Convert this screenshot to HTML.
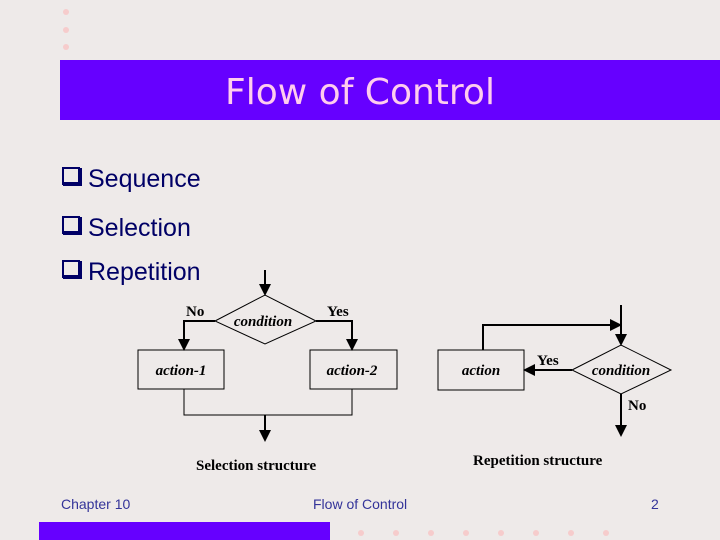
<!DOCTYPE html>
<html><head><meta charset="utf-8"><style>
body{margin:0;width:720px;height:540px;background:#eeeae9;position:relative;overflow:hidden;font-family:"Liberation Sans",sans-serif}
.t{position:absolute;white-space:nowrap}
</style></head><body>
<svg width="720" height="540" style="position:absolute;left:0;top:0">
<g fill="#f6cccc">
<circle cx="66" cy="12" r="3"/><circle cx="66" cy="30" r="3"/><circle cx="66" cy="47" r="3"/>
<circle cx="361" cy="533" r="3"/><circle cx="396" cy="533" r="3"/><circle cx="431" cy="533" r="3"/><circle cx="466" cy="533" r="3"/><circle cx="501" cy="533" r="3"/><circle cx="536" cy="533" r="3"/><circle cx="571" cy="533" r="3"/><circle cx="606" cy="533" r="3"/>
</g>
<rect x="60" y="60" width="660" height="60" fill="#6600ff"/>
<rect x="39" y="522" width="291" height="18" fill="#6600ff"/>
<text x="360" y="104" text-anchor="middle" font-family="'DejaVu Sans',sans-serif" font-size="36" fill="#ffccee">Flow of Control</text>
<g font-family="'Liberation Sans',sans-serif" font-size="25" fill="#000066">
<text x="88" y="187">Sequence</text><text x="88" y="236">Selection</text><text x="88" y="280">Repetition</text>
</g>
<g fill="none" stroke="#000066" stroke-width="2">
<rect x="63" y="168" width="16" height="16"/><rect x="63" y="217" width="16" height="16"/><rect x="63" y="261" width="16" height="16"/>
</g>
<g fill="#000066"><rect x="63" y="182" width="19" height="4"/><rect x="79" y="168" width="3" height="18"/>
<rect x="63" y="231" width="19" height="4"/><rect x="79" y="217" width="3" height="18"/>
<rect x="63" y="275" width="19" height="4"/><rect x="79" y="261" width="3" height="18"/></g>
<defs><marker id="a" markerWidth="6" markerHeight="6" refX="5" refY="3" orient="auto"><path d="M0,0L6,3L0,6z" fill="#000"/></marker></defs>
<g stroke="#000" fill="none" stroke-width="1">
<polygon points="215,321 265,295 316,321 265,344" fill="none"/>
<rect x="138" y="350" width="86" height="39"/>
<rect x="310" y="350" width="87" height="39"/>
<polyline points="184,389 184,415 352,415 352,389"/>
<polygon points="572,370 621,345 671,370 621,394"/>
<rect x="438" y="350" width="86" height="40"/>
</g>
<g stroke="#000" fill="none" stroke-width="2" marker-end="url(#a)">
<line x1="265" y1="270" x2="265" y2="294"/>
<polyline points="215,321 184,321 184,349"/>
<polyline points="316,321 352,321 352,349"/>
<line x1="265" y1="415" x2="265" y2="440"/>
<line x1="621" y1="305" x2="621" y2="344"/>
<line x1="572" y1="370" x2="525" y2="370"/>
<polyline points="483,350 483,325 620,325"/>
<line x1="621" y1="394" x2="621" y2="435"/>
</g>
<g font-family="'Liberation Serif',serif" font-weight="bold" font-size="15" fill="#000">
<text x="186" y="316">No</text><text x="327" y="316">Yes</text>
<text x="537" y="365">Yes</text><text x="628" y="410">No</text>
<g font-style="italic"><text x="263" y="326" text-anchor="middle">condition</text>
<text x="181" y="375" text-anchor="middle">action-1</text><text x="352" y="375" text-anchor="middle">action-2</text>
<text x="481" y="375" text-anchor="middle">action</text><text x="621" y="375" text-anchor="middle">condition</text></g>
<text x="196" y="470">Selection structure</text><text x="473" y="465">Repetition structure</text>
</g>
<g font-family="'Liberation Sans',sans-serif" font-size="14" fill="#333399">
<text x="61" y="509">Chapter 10</text><text x="313" y="509">Flow of Control</text><text x="651" y="509">2</text>
</g>
</svg>
</body></html>
